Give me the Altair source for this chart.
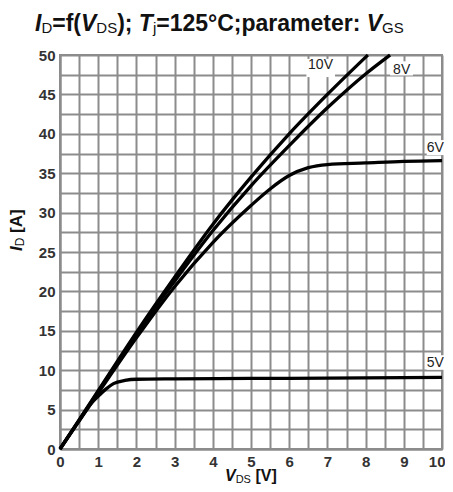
import altair as alt
import pandas as pd

# ---- data ----
vds_10v = [0, 1, 2, 3, 4, 5, 6, 7, 8.06]
id_10v = [0, 7.4, 14.8, 21.8, 28.5, 34.5, 40.0, 45.0, 50.0]

vds_8v = [0, 1, 2, 3, 4, 5, 6, 7, 8, 8.64]
id_8v = [0, 7.3, 14.6, 21.3, 27.7, 33.4, 38.5, 43.3, 47.6, 50.0]

vds_6v = [0, 1, 2, 3, 4, 5, 5.5, 6, 6.5, 7, 8, 9, 10]
id_6v = [0, 7.1, 14.1, 20.6, 26.2, 30.9, 33.0, 34.7, 35.7, 36.1, 36.3, 36.5, 36.6]

vds_5v = [0, 0.5, 0.8, 1.0, 1.2, 1.4, 1.7, 2.0, 3, 5, 7, 10]
id_5v = [0, 3.6, 5.7, 6.7, 7.6, 8.3, 8.7, 8.85, 8.9, 8.95, 9.0, 9.1]

series_names = ["10V", "8V", "6V", "5V"]

label_text = ["10V", "8V", "6V", "5V"]
label_x = [6.82, 8.72, 10.05, 10.05]
label_y = [48.7, 48.1, 38.2, 10.9]
label_align = ["center", "left", "right", "right"]
box_x1 = [6.45, 8.64, 9.6, 9.6]
box_x2 = [7.2, 9.24, 10.4, 10.4]
box_y1 = [47.2, 47.4, 37.3, 10.05]
box_y2 = [49.5, 49.2, 39.2, 11.9]

x_grid = [i * 0.5 for i in range(21)]
y_grid = [i * 2.5 for i in range(21)]

GRID = "#8c8c8c"
FONT = "Liberation Sans"

rows = []
for name, xs_, ys_ in zip(series_names, [vds_10v, vds_8v, vds_6v, vds_5v],
                          [id_10v, id_8v, id_6v, id_5v]):
    for x, y in zip(xs_, ys_):
        rows.append({"series": name, "vds": x, "id": y})
curves = pd.DataFrame(rows)

labels = pd.DataFrame({"text": label_text, "x": label_x, "y": label_y,
                       "align": label_align, "x1": box_x1, "x2": box_x2,
                       "y1": box_y1, "y2": box_y2})

xs = alt.Scale(domain=[0, 10], nice=False)
ys = alt.Scale(domain=[0, 50], nice=False)

x_axis = alt.Axis(values=x_grid, title="",
                  labelExpr="datum.value % 1 == 0 ? format(datum.value, 'd') : ''",
                  grid=True, gridColor=GRID, gridWidth=2, gridOpacity=1,
                  domainColor=GRID, domainWidth=2, ticks=False,
                  labelFont=FONT, labelFontSize=15, labelFontWeight="bold",
                  labelColor="#333", labelPadding=5, labelFlush=False, labelOverlap=False,
                  labelAlign={"condition": {"test": "datum.value == 10", "value": "right"},
                              "value": "center"},
                  labelOffset={"condition": {"test": "datum.value == 10", "value": 3},
                               "value": 0})
y_axis = alt.Axis(values=y_grid, title="",
                  labelExpr="datum.value % 5 == 0 ? format(datum.value, 'd') : ''",
                  grid=True, gridColor=GRID, gridWidth=2, gridOpacity=1,
                  domainColor=GRID, domainWidth=2, ticks=False,
                  labelFont=FONT, labelFontSize=15, labelFontWeight="bold",
                  labelColor="#333", labelPadding=5, labelFlush=False, labelOverlap=False)

lines = alt.Chart(curves).mark_line(color="black", strokeWidth=3.3, interpolate="monotone").encode(
    x=alt.X("vds:Q", scale=xs, axis=x_axis),
    y=alt.Y("id:Q", scale=ys, axis=y_axis),
    detail="series:N",
)

boxes = alt.Chart(labels).mark_rect(color="white").encode(
    x=alt.X("x1:Q", scale=xs, axis=x_axis), x2="x2:Q",
    y=alt.Y("y1:Q", scale=ys, axis=y_axis), y2="y2:Q",
)

texts = []
for al in ["center", "left", "right"]:
    texts.append(
        alt.Chart(labels).transform_filter(alt.datum.align == al).mark_text(
            align=al, baseline="middle", fontSize=14, font=FONT, color="#222"
        ).encode(x=alt.X("x:Q", scale=xs, axis=x_axis),
                 y=alt.Y("y:Q", scale=ys, axis=y_axis), text="text:N")
    )

# ---- rich text (titles with italic letters and subscripts) ----
BOLD_W = {' ': 278, '(': 333, ')': 333, ';': 333, ':': 333, '=': 584, '°': 400,
          'C': 722, 'I': 278, 'T': 611, 'V': 667, 'a': 556, 'e': 556, 'f': 333,
          'm': 889, 'p': 611, 'r': 389, 't': 333, '[': 333, ']': 333, 'A': 722}
for d in "0123456789":
    BOLD_W[d] = 556
REG_W = {'D': 722, 'S': 667, 'G': 778, 'j': 222, ' ': 278}

anchor = pd.DataFrame({"a": [0]})


def text_width(s, size, bold):
    table = BOLD_W if bold else REG_W
    return sum(table.get(c, 556) for c in s) * size / 1000.0


def rich(pieces, x0, y0, main, sub, vertical=False):
    layers = []
    pos = 0.0
    for txt, kind in pieces:
        if kind == "sub":
            size, weight, style, bold, dy = sub, "normal", "normal", False, 1.5
        elif kind == "ital":
            size, weight, style, bold, dy = main, "bold", "italic", True, 0
        else:
            size, weight, style, bold, dy = main, "bold", "normal", True, 0
        # SVG collapses leading/trailing spaces: advance for them explicitly
        lead = len(txt) - len(txt.lstrip(" "))
        pos += text_width(" " * lead, size, bold)
        core = txt.strip(" ")
        if vertical:
            px, py, ang = x0, y0 - pos, 270
        else:
            px, py, ang = x0 + pos, y0, 0
        layers.append(
            alt.Chart(anchor).mark_text(
                text=core, fontSize=size, fontWeight=weight, fontStyle=style,
                font=FONT, align="left", baseline="alphabetic", angle=ang,
                dy=dy, color="#111"
            ).encode(x=alt.value(px), y=alt.value(py))
        )
        pos += text_width(txt.lstrip(" "), size, bold)
    return layers


title_pieces = [("I", "ital"), ("D", "sub"), ("=f(", "b"), ("V", "ital"), ("DS", "sub"),
                ("); ", "b"), ("T", "ital"), ("j", "sub"), ("=125°C;parameter: ", "b"),
                ("V", "ital"), ("GS", "sub")]
xt_pieces = [("V", "ital"), ("DS", "sub"), (" [V]", "b")]
yt_pieces = [("I", "ital"), ("D", "sub"), (" [A]", "b")]

title_layers = rich(title_pieces, -25, -24, 23, 15)
xt_layers = rich(xt_pieces, 165, 426, 16, 11)
yt_layers = rich(yt_pieces, -38, 196, 17, 12, vertical=True)

chart = alt.layer(lines, boxes, *texts, *title_layers, *xt_layers, *yt_layers).properties(
    width=382, height=394,
    autosize=alt.AutoSizeParams(type="none"),
    padding={"left": 52, "top": 47, "right": 3, "bottom": 35},
).configure_view(stroke=GRID, strokeWidth=2)

chart.save("out.html", embed_options={"renderer": "svg", "actions": False})
